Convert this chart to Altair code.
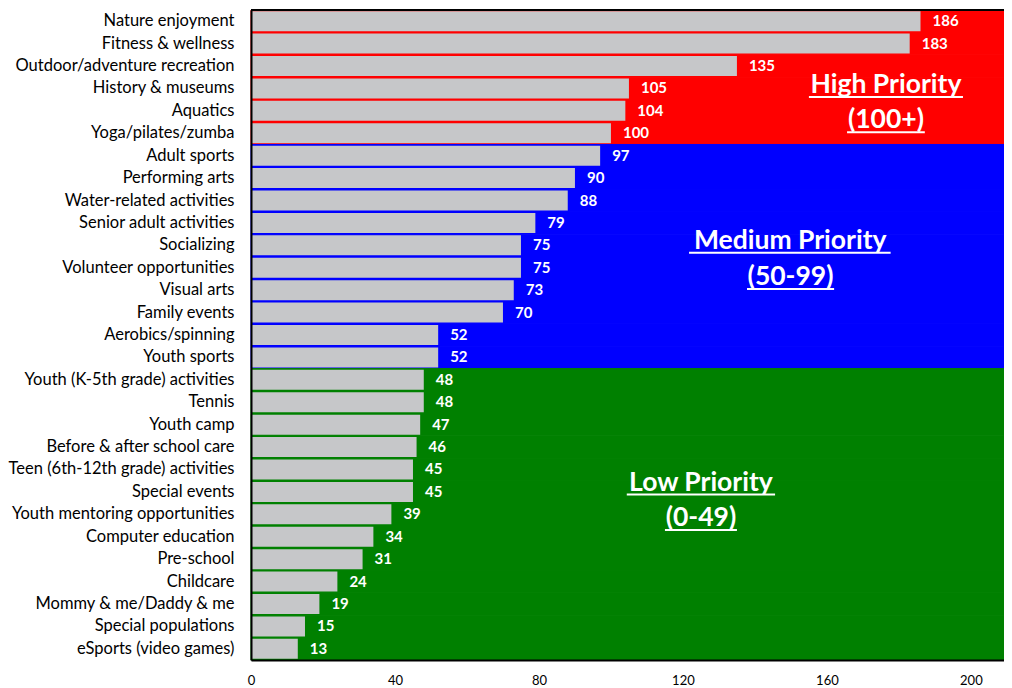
import altair as alt
import pandas as pd

categories = ["Nature enjoyment", "Fitness & wellness", "Outdoor/adventure recreation",
              "History & museums", "Aquatics", "Yoga/pilates/zumba", "Adult sports",
              "Performing arts", "Water-related activities", "Senior adult activities",
              "Socializing", "Volunteer opportunities", "Visual arts", "Family events",
              "Aerobics/spinning", "Youth sports", "Youth (K-5th grade) activities", "Tennis",
              "Youth camp", "Before & after school care", "Teen (6th-12th grade) activities",
              "Special events", "Youth mentoring opportunities", "Computer education",
              "Pre-school", "Childcare", "Mommy & me/Daddy & me", "Special populations",
              "eSports (video games)"]
values = [186, 183, 135, 105, 104, 100, 97, 90, 88, 79, 75, 75, 73, 70, 52, 52,
          48, 48, 47, 46, 45, 45, 39, 34, 31, 24, 19, 15, 13]
tick_values = [0, 40, 80, 120, 160, 200]
x_max = 209.2

tier_names = ["High", "Medium", "Low"]
tier_colors = ["#FF0000", "#0000FF", "#008000"]


def tier(v):
    if v >= 100:
        return "High"
    if v >= 50:
        return "Medium"
    return "Low"


df = pd.DataFrame({"category": categories, "value": values,
                   "tier": [tier(v) for v in values]})

# annotation text lines: label, centre (data units), line extent (data units)
ann_labels = ["High Priority", "(100+)", "Medium Priority", "(50-99)", "Low Priority", "(0-49)"]
ann_center = [176.4, 176.4, 149.8, 149.9, 125.0, 125.0]
ann_left = [155.0, 165.6, 121.7, 137.8, 104.4, 115.0]
ann_right = [197.8, 187.2, 177.7, 162.0, 145.6, 135.0]
ann_base = [83.3, 118.3, 238.5, 274.5, 481.0, 515.7]
ann_uline = [87.0, 122.3, 242.7, 279.0, 484.5, 520.0]

FONT = "Lato"

y_enc = alt.Y("category:N", sort=categories,
              scale=alt.Scale(paddingInner=0, paddingOuter=0),
              axis=alt.Axis(title=None, ticks=False, domainColor="black", domainWidth=2,
                            labelFont=FONT, labelFontSize=16.5, labelColor="black",
                            labelPadding=17, labelLimit=400, zindex=1))
x_enc = alt.X("value:Q", scale=alt.Scale(domain=[0, x_max], nice=False, zero=True),
              axis=alt.Axis(title=None, values=tick_values, grid=False, ticks=False,
                            domainColor="black", domainWidth=2, labelFont=FONT,
                            labelFontSize=13, labelColor="black", labelPadding=14,
                            labelFlush=False, zindex=1))

tier_scale = alt.Scale(domain=tier_names, range=tier_colors)
base = alt.Chart(df)

bg = base.mark_bar(strokeWidth=1).encode(
    y=y_enc,
    x=alt.value(0),
    x2=alt.value("width"),
    color=alt.Color("tier:N", scale=tier_scale, legend=None),
    stroke=alt.Stroke("tier:N", scale=tier_scale, legend=None),
)

bars = base.mark_bar(color="#C6C7C9", size=20).encode(y=y_enc, x=x_enc)

labels = base.mark_text(font=FONT, fontSize=15, fontWeight="bold", color="white",
                        align="left", baseline="middle", dx=12).encode(
    y=y_enc, x=alt.X("value:Q"), text=alt.Text("value:Q"))

layers = [bg, bars, labels]

for lab, cx, xl, xr, by, uy in zip(ann_labels, ann_center, ann_left, ann_right, ann_base, ann_uline):
    adf = pd.DataFrame({"label": [lab], "cx": [cx], "xl": [xl], "xr": [xr]})
    layers.append(alt.Chart(adf).mark_text(font=FONT, fontSize=26.5, fontWeight="bold",
                                           color="white", align="center",
                                           baseline="alphabetic").encode(
        x=alt.X("cx:Q"), y=alt.value(by), text="label:N"))
    layers.append(alt.Chart(adf).mark_rule(color="white", strokeWidth=2).encode(
        x=alt.X("xl:Q"), x2="xr:Q", y=alt.value(uy)))

top_rule = alt.Chart(df).mark_rule(color="black", strokeWidth=2).encode(
    x=alt.value(0), x2=alt.value("width"), y=alt.value(0))
layers.append(top_rule)

chart = alt.layer(*layers).properties(
    width=753, height=650,
    autosize=alt.AutoSizeParams(type="none"),
    padding={"left": 243, "top": 2, "right": 0, "bottom": 28},
    background="white",
).configure_view(stroke=None)

chart.save("out.html", embed_options={"renderer": "svg", "actions": False})
